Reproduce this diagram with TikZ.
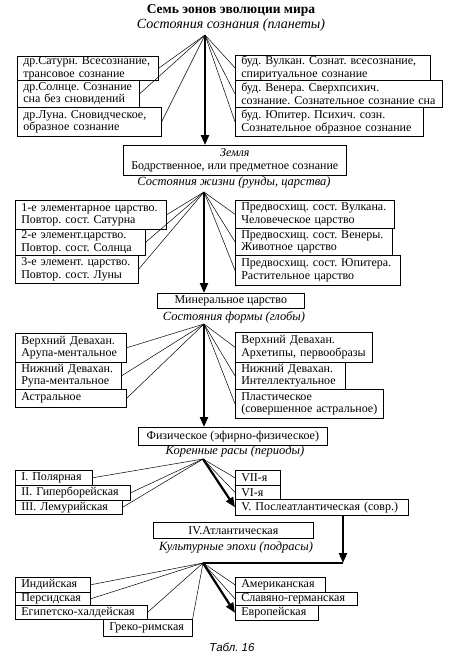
\documentclass[tikz,border=0pt]{standalone}
\usepackage{fontspec}
\setmainfont{Liberation Serif}
\newfontfamily\capfont{Liberation Sans}
\usetikzlibrary{arrows.meta,calc}
\frenchspacing
\newcommand\cellfont{\fontsize{12}{12.5}\selectfont}
\tikzset{
  cell/.style={draw,line width=.6pt,anchor=north west,inner xsep=6pt,inner ysep=0pt,align=left,font=\cellfont},
  stage/.style={draw,line width=.6pt,anchor=north west,inner sep=0pt,align=center,font=\cellfont},
  sub/.style={font=\fontsize{12.5}{12.5}\selectfont\itshape},
  ray/.style={line width=.5pt},
  trunk/.style={-{Triangle[length=10pt,width=8pt]},line width=2.2pt},
  heavy/.style={line width=2.2pt}
}

\begin{document}
\begin{tikzpicture}[x=1pt,y=-1pt]
  \useasboundingbox (0,0) rectangle (452,665);
  % планеты
  \node[font=\fontsize{13.5}{13.5}\selectfont\bfseries] (title) at (231,10) {Семь эонов эволюции мира};
  \node[sub,font=\fontsize{14}{14}\selectfont\itshape] (sa) at (231,25) {Состояния сознания (планеты)};
  \coordinate (ha) at (205,35);
  \node[cell,text width=129pt,minimum height=24pt] (al1) at (17,56) {др.Сатурн. Всесознание,\\трансовое сознание};
  \node[cell,text width=110pt,minimum height=27pt] (al2) at (17,80) {др.Солнце. Сознание\\сна без сновидений};
  \node[cell,text width=132pt,minimum height=29pt] (al3) at (17,107) {др.Луна. Сновидческое,\\образное сознание};
  \node[cell,text width=183pt,minimum height=25pt] (ar1) at (235,55) {буд. Вулкан. Сознат. всесознание,\\спиритуальное сознание};
  \node[cell,text width=195pt,minimum height=27pt] (ar2) at (235,80) {буд. Венера. Сверхпсихич.\\сознание. Сознательное сознание сна};
  \node[cell,text width=176pt,minimum height=29pt] (ar3) at (235,107) {буд. Юпитер. Психич. созн.\\Сознательное образное сознание};
  \foreach \b in {al1,al2,al3} \draw[ray] (ha) -- (\b.east);
  \foreach \b in {ar1,ar2,ar3} \draw[ray] (ha) -- (\b.west);

  % царства
  \node[stage,minimum width=223pt,minimum height=30pt] (earth) at (123,145) {\textit{Земля}\\Бодрственное, или предметное сознание};
  \draw[trunk] (ha) -- (earth.north -| ha);
  \node[sub] (sb) at (234,183) {Состояния жизни (рунды, царства)};
  \coordinate (hb) at (204,192);
  \node[cell,text width=139pt,minimum height=29pt] (bl1) at (15,200) {1-е элементарное царство.\\Повтор. сост. Сатурна};
  \node[cell,text width=118pt,minimum height=26pt] (bl2) at (15,229) {2-е элемент.царство.\\Повтор. сост. Солнца};
  \node[cell,text width=111pt,minimum height=28pt] (bl3) at (15,255) {3-е элемент. царство.\\Повтор. сост. Луны};
  \node[cell,text width=147pt,minimum height=28pt] (br1) at (235,200) {Предвосхищ. сост. Вулкана.\\Человеческое царство};
  \node[cell,text width=145pt,minimum height=27pt] (br2) at (235,228) {Предвосхищ. сост. Венеры.\\Животное царство};
  \node[cell,text width=153pt,minimum height=30pt] (br3) at (235,255) {Предвосхищ. сост. Юпитера.\\Растительное царство};
  \foreach \b in {bl1,bl2,bl3} \draw[ray] (hb) -- (\b.east);
  \foreach \b in {br1,br2,br3} \draw[ray] (hb) -- (\b.west);

  % глобы
  \node[stage,minimum width=147pt,minimum height=15pt] (mineral) at (157,293) {Минеральное царство};
  \draw[trunk] (hb) -- (mineral.north -| hb);
  \node[sub] (sc) at (234,317) {Состояния формы (глобы)};
  \coordinate (hc) at (204,324);
  \node[cell,text width=99pt,minimum height=29pt] (cl1) at (15,333) {Верхний Девахан.\\Арупа-ментальное};
  \node[cell,text width=94pt,minimum height=27pt] (cl2) at (15,362) {Нижний Девахан.\\Рупа-ментальное};
  \node[cell,text width=99pt,minimum height=18pt] (cl3) at (15,389) {Астральное};
  \node[cell,text width=125pt,minimum height=30pt] (cr1) at (235,332) {Верхний Девахан.\\Архетипы, первообразы};
  \node[cell,text width=98pt,minimum height=27pt] (cr2) at (235,362) {Нижний Девахан.\\Интеллектуальное};
  \node[cell,text width=136pt,minimum height=29pt] (cr3) at (235,389) {Пластическое\\(совершенное астральное)};
  \foreach \b in {cl1,cl2,cl3} \draw[ray] (hc) -- (\b.east);
  \foreach \b in {cr1,cr2,cr3} \draw[ray] (hc) -- (\b.west);

  % периоды
  \node[stage,minimum width=189pt,minimum height=18pt] (phys) at (138,427) {Физическое (эфирно-физическое)};
  \draw[trunk] (hc) -- (phys.north -| hc);
  \node[sub] (sd) at (235,451) {Коренные расы (периоды)};
  \coordinate (hd) at (203,459);
  \node[cell,text width=65pt,minimum height=15pt] (dl1) at (15,470) {I. Полярная};
  \node[cell,text width=103pt,minimum height=15pt] (dl2) at (15,485) {II. Гиперборейская};
  \node[cell,text width=95pt,minimum height=14pt] (dl3) at (15,500) {III. Лемурийская};
  \node[cell,text width=33pt,minimum height=15pt] (dr1) at (235,470) {VII-я};
  \node[cell,text width=33pt,minimum height=14pt] (dr2) at (235,485) {VI-я};
  \node[cell,text width=161pt,minimum height=16pt] (dr3) at (235,499) {V. Послеатлантическая (совр.)};
  \foreach \b in {dl1,dl2,dl3} \draw[ray] (hd) -- (\b.east);
  \foreach \b in {dr1,dr2} \draw[ray] (hd) -- (\b.west);
  \draw[trunk] (hd) -- (dr3.west);

  % подрасы
  \node[stage,minimum width=160pt,minimum height=16pt] (atl) at (153,522) {IV.Атлантическая};
  \node[sub] (se) at (236,548) {Культурные эпохи (подрасы)};
  \coordinate (he) at (203,563);
  \coordinate (turn) at (343,563);
  \draw[trunk] (dr3.south -| turn) -- (turn);
  \draw[heavy] (turn) -- (he);
  \node[cell,text width=63pt,minimum height=15pt] (el1) at (15,577) {Индийская};
  \node[cell,text width=63pt,minimum height=13pt] (el2) at (15,592) {Персидская};
  \node[cell,text width=120pt,minimum height=14pt] (el3) at (15,605) {Египетско-халдейская};
  \node[cell,text width=77pt,minimum height=17pt] (el4) at (103,619) {Греко-римская};
  \node[cell,text width=78pt,minimum height=15pt] (er1) at (235,577) {Американская};
  \node[cell,text width=110pt,minimum height=13pt] (er2) at (235,592) {Славяно-германская};
  \node[cell,text width=71pt,minimum height=15pt] (er3) at (235,605) {Европейская};
  \foreach \b in {el1,el2,el3} \draw[ray] (he) -- (\b.east);
  \draw[ray] (he) -- (el4.north east);
  \foreach \b in {er1,er2} \draw[ray] (he) -- (\b.west);
  \draw[trunk] (he) -- (er3.west);

  \node[font=\capfont\itshape\fontsize{11.5}{11.5}\selectfont] (tab) at (232,647) {Табл. 16};
\end{tikzpicture}
\end{document}
